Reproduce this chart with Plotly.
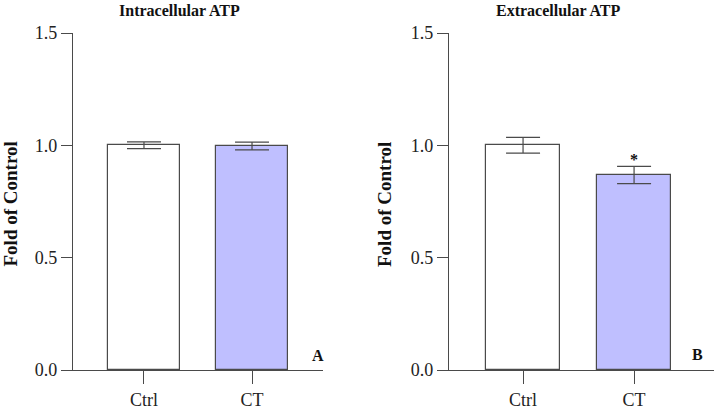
import plotly.graph_objects as go

categories = ["Ctrl", "CT"]
intra_values = [1.0, 0.997]
intra_errors = [0.015, 0.017]
extra_values = [1.0, 0.868]
extra_errors = [0.035, 0.038]
bar_colors = ["#FFFFFF", "#BFBFFF"]
y_ticks = [0.0, 0.5, 1.0, 1.5]
y_tick_text = ["0.0", "0.5", "1.0", "1.5"]

W, H = 714, 412
FONT = "Liberation Serif"
LINE = "#4a4a4a"

fig = go.Figure()

fig.add_trace(go.Bar(
    x=categories, y=intra_values, width=0.66,
    marker=dict(color=bar_colors, line=dict(color=LINE, width=1.2)),
    error_y=dict(type="data", array=intra_errors, visible=True, color=LINE, thickness=1.2, width=17),
    xaxis="x", yaxis="y", showlegend=False))

fig.add_trace(go.Bar(
    x=categories, y=extra_values, width=0.667,
    marker=dict(color=bar_colors, line=dict(color=LINE, width=1.2)),
    error_y=dict(type="data", array=extra_errors, visible=True, color=LINE, thickness=1.2, width=17),
    xaxis="x2", yaxis="y2", showlegend=False))

ydom = [42 / H, 379 / H]
common_x = dict(type="category", showline=True, linecolor=LINE, linewidth=1.2,
                ticks="outside", ticklen=13, tickcolor=LINE, tickwidth=1.2,
                showgrid=False, zeroline=False, automargin=False,
                tickfont=dict(family=FONT, size=18, color="#222"))
common_y = dict(range=[0, 1.5], tickvals=y_ticks, ticktext=y_tick_text,
                showline=True, linecolor=LINE, linewidth=1.2,
                ticks="outside", ticklen=11, tickcolor=LINE, tickwidth=1.2,
                showgrid=False, zeroline=False, domain=ydom, automargin=False,
                tickfont=dict(family=FONT, size=18, color="#222"))

fig.update_layout(
    width=W, height=H, margin=dict(l=0, r=0, t=0, b=0, pad=0),
    paper_bgcolor="white", plot_bgcolor="white",
    bargap=0,
    xaxis=dict(domain=[73 / W, 323 / W], range=[-0.657, 1.657], anchor="y", **common_x),
    yaxis=dict(anchor="x", **common_y),
    xaxis2=dict(domain=[449 / W, 1.0], range=[-0.667, 1.72], anchor="y2", **common_x),
    yaxis2=dict(anchor="x2", **common_y),
)

def ann(text, x, y, size, bold=True, angle=0, xref="paper", yref="paper", xanchor="center", yanchor="middle"):
    fig.add_annotation(text=f"<b>{text}</b>" if bold else text, x=x, y=y, xref=xref, yref=yref,
                       showarrow=False, textangle=angle, xanchor=xanchor, yanchor=yanchor,
                       font=dict(family=FONT, size=size, color="#111"))

ann("Intracellular ATP", 179 / W, 1 - 11 / H, 16)
ann("Extracellular ATP", 558 / W, 1 - 11 / H, 16)
ann("Fold of Control", 10 / W, 1 - 204.5 / H, 19, angle=-90)
ann("Fold of Control", 384.5 / W, 1 - 204.5 / H, 19, angle=-90)
ann("A", 318 / W, 1 - 355 / H, 16)
ann("B", 697 / W, 1 - 354 / H, 16)
fig.add_annotation(text="<b>*</b>", x="CT", y=extra_values[1] + extra_errors[1], xref="x2", yref="y2",
                   showarrow=False, yanchor="bottom", yshift=-4,
                   font=dict(family=FONT, size=16, color="#111"))

fig.write_html("out.html")
